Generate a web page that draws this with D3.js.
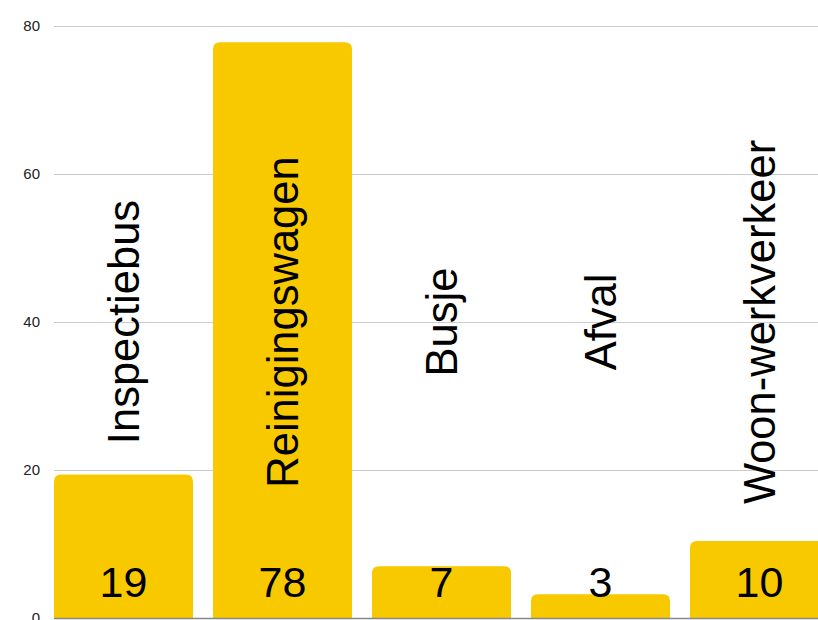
<!DOCTYPE html>
<html>
<head>
<meta charset="utf-8">
<script src="https://cdn.jsdelivr.net/npm/d3@7"></script>
<style>
  html, body { margin: 0; padding: 0; background: #fff; overflow: hidden; }
  svg { display: block; font-family: "Liberation Sans", Arial, sans-serif; }
</style>
</head>
<body>
<script>
const categories = ["Inspectiebus", "Reinigingswagen", "Busje", "Afval", "Woon-werkverkeer"];
const values = [19.4, 77.8, 7.0, 3.2, 10.4];
const valueLabels = ["19", "78", "7", "3", "10"];
const yTicks = [0, 20, 40, 60, 80];

const W = 818, H = 620;
const mLeft = 54, mBottom = 618, mTop = 26;

const svg = d3.select("body").append("svg").attr("width", W).attr("height", H);

const x = d3.scaleBand().domain(categories).range([mLeft, 829]).paddingInner(20 / 159).paddingOuter(0);
const y = d3.scaleLinear().domain([0, 80]).range([mBottom, mTop]);

// grid + tick labels
const gAxis = svg.append("g").attr("transform", `translate(${mLeft},0)`)
  .call(d3.axisLeft(y).tickValues(yTicks).tickSize(-(W - mLeft)).tickPadding(14));
gAxis.select(".domain").remove();
gAxis.selectAll(".tick line").attr("stroke", "#cccccc").attr("stroke-width", 1);
gAxis.selectAll(".tick text").attr("font-size", 15).attr("fill", "#222")
  .attr("font-family", "Liberation Sans, Arial, sans-serif");

function roundedTop(x0, y0, w, h, r) {
  r = Math.min(r, h, w / 2);
  return `M${x0},${y0 + h}V${y0 + r}Q${x0},${y0} ${x0 + r},${y0}H${x0 + w - r}Q${x0 + w},${y0} ${x0 + w},${y0 + r}V${y0 + h}Z`;
}

const data = categories.map((c, i) => ({ c, v: values[i], label: valueLabels[i] }));

svg.append("g").selectAll("path").data(data).join("path")
  .attr("d", d => roundedTop(x(d.c), y(d.v), x.bandwidth(), y(0) - y(d.v), 7))
  .attr("fill", "#f9c900");

// baseline
svg.append("line").attr("x1", mLeft).attr("x2", W).attr("y1", y(0) + 0.5).attr("y2", y(0) + 0.5)
  .attr("stroke", "#888").attr("stroke-width", 1.5);

// value labels
svg.append("g").selectAll("text").data(data).join("text")
  .attr("x", d => x(d.c) + x.bandwidth() / 2)
  .attr("y", y(0) - 21)
  .attr("text-anchor", "middle")
  .attr("font-size", 43)
  .attr("fill", "#000")
  .text(d => d.label);

// category labels (rotated)
const midY = y(40);
svg.append("g").selectAll("text").data(data).join("text")
  .attr("transform", d => `translate(${x(d.c) + x.bandwidth() / 2},${midY}) rotate(-90)`)
  .attr("text-anchor", "middle")
  .attr("dy", "0.36em")
  .attr("font-size", 43.5)
  .attr("fill", "#000")
  .text(d => d.c);
</script>
</body>
</html>
